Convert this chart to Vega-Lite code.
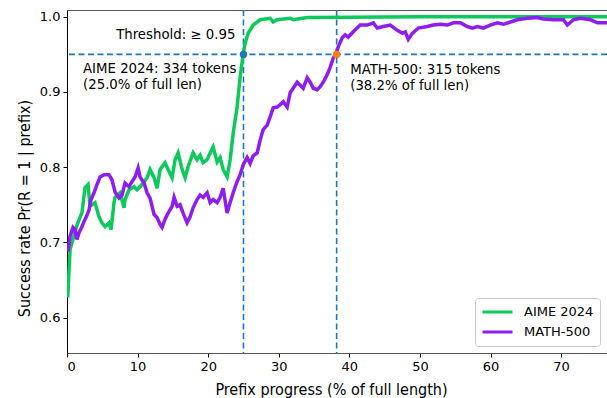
{
  "$schema": "https://vega.github.io/schema/vega-lite/v6.json",
  "width": 540,
  "height": 343,
  "autosize": {"type": "none"},
  "padding": {"left": 67, "top": 10, "right": 0, "bottom": 45},
  "background": "white",
  "config": {
    "font": "DejaVu Sans",
    "view": {"stroke": "#555555", "strokeWidth": 1},
    "axis": {
      "grid": false,
      "labelFont": "DejaVu Sans",
      "labelFontSize": 13,
      "labelColor": "#000000",
      "tickColor": "#000000",
      "tickSize": 4,
      "labelPadding": 3,
      "titleFont": "DejaVu Sans Condensed",
      "titleFontSize": 16,
      "titleFontWeight": "normal",
      "titleColor": "#000000"
    },
    "legend": {
      "labelFont": "DejaVu Sans",
      "labelFontSize": 13,
      "labelColor": "#000000"
    }
  },
  "datasets": {
    "curves": [
      {"series": "AIME 2024", "p": 0.1, "r": 0.627},
      {"series": "AIME 2024", "p": 0.43, "r": 0.69},
      {"series": "AIME 2024", "p": 0.71, "r": 0.70},
      {"series": "AIME 2024", "p": 1.42, "r": 0.723},
      {"series": "AIME 2024", "p": 2.13, "r": 0.74},
      {"series": "AIME 2024", "p": 2.55, "r": 0.773},
      {"series": "AIME 2024", "p": 2.98, "r": 0.777},
      {"series": "AIME 2024", "p": 3.26, "r": 0.748},
      {"series": "AIME 2024", "p": 3.97, "r": 0.753},
      {"series": "AIME 2024", "p": 4.54, "r": 0.734},
      {"series": "AIME 2024", "p": 4.96, "r": 0.726},
      {"series": "AIME 2024", "p": 5.39, "r": 0.721},
      {"series": "AIME 2024", "p": 5.95, "r": 0.726},
      {"series": "AIME 2024", "p": 6.24, "r": 0.717},
      {"series": "AIME 2024", "p": 6.66, "r": 0.753},
      {"series": "AIME 2024", "p": 6.81, "r": 0.76},
      {"series": "AIME 2024", "p": 7.51, "r": 0.766},
      {"series": "AIME 2024", "p": 8.08, "r": 0.746},
      {"series": "AIME 2024", "p": 8.22, "r": 0.757},
      {"series": "AIME 2024", "p": 8.79, "r": 0.77},
      {"series": "AIME 2024", "p": 9.5, "r": 0.774},
      {"series": "AIME 2024", "p": 9.92, "r": 0.77},
      {"series": "AIME 2024", "p": 10.63, "r": 0.777},
      {"series": "AIME 2024", "p": 11.34, "r": 0.786},
      {"series": "AIME 2024", "p": 11.77, "r": 0.797},
      {"series": "AIME 2024", "p": 12.34, "r": 0.786},
      {"series": "AIME 2024", "p": 12.76, "r": 0.772},
      {"series": "AIME 2024", "p": 13.19, "r": 0.797},
      {"series": "AIME 2024", "p": 13.89, "r": 0.806},
      {"series": "AIME 2024", "p": 14.32, "r": 0.797},
      {"series": "AIME 2024", "p": 14.89, "r": 0.786},
      {"series": "AIME 2024", "p": 15.31, "r": 0.81},
      {"series": "AIME 2024", "p": 15.74, "r": 0.819},
      {"series": "AIME 2024", "p": 16.31, "r": 0.797},
      {"series": "AIME 2024", "p": 16.73, "r": 0.786},
      {"series": "AIME 2024", "p": 17.16, "r": 0.801},
      {"series": "AIME 2024", "p": 17.86, "r": 0.819},
      {"series": "AIME 2024", "p": 18.43, "r": 0.81},
      {"series": "AIME 2024", "p": 18.86, "r": 0.816},
      {"series": "AIME 2024", "p": 19.28, "r": 0.806},
      {"series": "AIME 2024", "p": 19.85, "r": 0.81},
      {"series": "AIME 2024", "p": 20.28, "r": 0.819},
      {"series": "AIME 2024", "p": 20.7, "r": 0.827},
      {"series": "AIME 2024", "p": 21.27, "r": 0.807},
      {"series": "AIME 2024", "p": 21.69, "r": 0.813},
      {"series": "AIME 2024", "p": 22.12, "r": 0.797},
      {"series": "AIME 2024", "p": 22.68, "r": 0.787},
      {"series": "AIME 2024", "p": 23.11, "r": 0.81},
      {"series": "AIME 2024", "p": 23.54, "r": 0.845},
      {"series": "AIME 2024", "p": 24.1, "r": 0.88},
      {"series": "AIME 2024", "p": 24.53, "r": 0.92},
      {"series": "AIME 2024", "p": 24.95, "r": 0.95},
      {"series": "AIME 2024", "p": 25.24, "r": 0.965},
      {"series": "AIME 2024", "p": 25.66, "r": 0.978},
      {"series": "AIME 2024", "p": 26.37, "r": 0.989},
      {"series": "AIME 2024", "p": 27.36, "r": 0.996},
      {"series": "AIME 2024", "p": 28.78, "r": 0.998},
      {"series": "AIME 2024", "p": 29.21, "r": 0.993},
      {"series": "AIME 2024", "p": 29.77, "r": 0.996},
      {"series": "AIME 2024", "p": 31.62, "r": 0.998},
      {"series": "AIME 2024", "p": 32.04, "r": 0.996},
      {"series": "AIME 2024", "p": 34.03, "r": 0.999},
      {"series": "AIME 2024", "p": 40.0, "r": 0.9995},
      {"series": "AIME 2024", "p": 50.0, "r": 1.0},
      {"series": "AIME 2024", "p": 60.0, "r": 1.0},
      {"series": "AIME 2024", "p": 70.0, "r": 1.0},
      {"series": "AIME 2024", "p": 76.5, "r": 1.0},
      {"series": "MATH-500", "p": 0.14, "r": 0.688},
      {"series": "MATH-500", "p": 0.43, "r": 0.708},
      {"series": "MATH-500", "p": 0.85, "r": 0.72},
      {"series": "MATH-500", "p": 1.13, "r": 0.717},
      {"series": "MATH-500", "p": 1.42, "r": 0.704},
      {"series": "MATH-500", "p": 1.7, "r": 0.713},
      {"series": "MATH-500", "p": 2.13, "r": 0.721},
      {"series": "MATH-500", "p": 2.41, "r": 0.728},
      {"series": "MATH-500", "p": 2.69, "r": 0.733},
      {"series": "MATH-500", "p": 3.12, "r": 0.743},
      {"series": "MATH-500", "p": 3.4, "r": 0.757},
      {"series": "MATH-500", "p": 3.83, "r": 0.766},
      {"series": "MATH-500", "p": 4.25, "r": 0.777},
      {"series": "MATH-500", "p": 4.68, "r": 0.787},
      {"series": "MATH-500", "p": 5.25, "r": 0.79},
      {"series": "MATH-500", "p": 5.95, "r": 0.79},
      {"series": "MATH-500", "p": 6.38, "r": 0.783},
      {"series": "MATH-500", "p": 6.81, "r": 0.767},
      {"series": "MATH-500", "p": 7.37, "r": 0.759},
      {"series": "MATH-500", "p": 7.8, "r": 0.763},
      {"series": "MATH-500", "p": 8.22, "r": 0.779},
      {"series": "MATH-500", "p": 8.79, "r": 0.774},
      {"series": "MATH-500", "p": 9.22, "r": 0.781},
      {"series": "MATH-500", "p": 9.64, "r": 0.787},
      {"series": "MATH-500", "p": 10.07, "r": 0.799},
      {"series": "MATH-500", "p": 10.35, "r": 0.787},
      {"series": "MATH-500", "p": 10.92, "r": 0.779},
      {"series": "MATH-500", "p": 11.34, "r": 0.766},
      {"series": "MATH-500", "p": 11.77, "r": 0.759},
      {"series": "MATH-500", "p": 12.34, "r": 0.737},
      {"series": "MATH-500", "p": 12.76, "r": 0.733},
      {"series": "MATH-500", "p": 13.19, "r": 0.724},
      {"series": "MATH-500", "p": 13.47, "r": 0.72},
      {"series": "MATH-500", "p": 13.89, "r": 0.731},
      {"series": "MATH-500", "p": 14.32, "r": 0.739},
      {"series": "MATH-500", "p": 14.89, "r": 0.748},
      {"series": "MATH-500", "p": 15.17, "r": 0.76},
      {"series": "MATH-500", "p": 15.6, "r": 0.748},
      {"series": "MATH-500", "p": 16.02, "r": 0.75},
      {"series": "MATH-500", "p": 16.45, "r": 0.739},
      {"series": "MATH-500", "p": 17.01, "r": 0.726},
      {"series": "MATH-500", "p": 17.44, "r": 0.734},
      {"series": "MATH-500", "p": 17.86, "r": 0.746},
      {"series": "MATH-500", "p": 18.43, "r": 0.757},
      {"series": "MATH-500", "p": 18.86, "r": 0.763},
      {"series": "MATH-500", "p": 19.28, "r": 0.76},
      {"series": "MATH-500", "p": 19.85, "r": 0.766},
      {"series": "MATH-500", "p": 20.28, "r": 0.753},
      {"series": "MATH-500", "p": 20.7, "r": 0.757},
      {"series": "MATH-500", "p": 21.27, "r": 0.753},
      {"series": "MATH-500", "p": 21.69, "r": 0.76},
      {"series": "MATH-500", "p": 22.12, "r": 0.772},
      {"series": "MATH-500", "p": 22.68, "r": 0.739},
      {"series": "MATH-500", "p": 23.11, "r": 0.753},
      {"series": "MATH-500", "p": 23.54, "r": 0.766},
      {"series": "MATH-500", "p": 24.1, "r": 0.781},
      {"series": "MATH-500", "p": 24.53, "r": 0.79},
      {"series": "MATH-500", "p": 24.95, "r": 0.803},
      {"series": "MATH-500", "p": 25.52, "r": 0.813},
      {"series": "MATH-500", "p": 25.95, "r": 0.805},
      {"series": "MATH-500", "p": 26.37, "r": 0.815},
      {"series": "MATH-500", "p": 26.94, "r": 0.819},
      {"series": "MATH-500", "p": 27.36, "r": 0.836},
      {"series": "MATH-500", "p": 27.79, "r": 0.85},
      {"series": "MATH-500", "p": 28.36, "r": 0.856},
      {"series": "MATH-500", "p": 28.78, "r": 0.867},
      {"series": "MATH-500", "p": 29.21, "r": 0.879},
      {"series": "MATH-500", "p": 29.77, "r": 0.88},
      {"series": "MATH-500", "p": 30.2, "r": 0.883},
      {"series": "MATH-500", "p": 30.63, "r": 0.887},
      {"series": "MATH-500", "p": 31.19, "r": 0.88},
      {"series": "MATH-500", "p": 31.62, "r": 0.899},
      {"series": "MATH-500", "p": 32.04, "r": 0.905},
      {"series": "MATH-500", "p": 32.61, "r": 0.913},
      {"series": "MATH-500", "p": 33.04, "r": 0.909},
      {"series": "MATH-500", "p": 33.46, "r": 0.905},
      {"series": "MATH-500", "p": 34.03, "r": 0.919},
      {"series": "MATH-500", "p": 34.45, "r": 0.913},
      {"series": "MATH-500", "p": 34.88, "r": 0.905},
      {"series": "MATH-500", "p": 35.45, "r": 0.903},
      {"series": "MATH-500", "p": 35.87, "r": 0.907},
      {"series": "MATH-500", "p": 36.3, "r": 0.913},
      {"series": "MATH-500", "p": 36.86, "r": 0.923},
      {"series": "MATH-500", "p": 37.29, "r": 0.933},
      {"series": "MATH-500", "p": 37.71, "r": 0.945},
      {"series": "MATH-500", "p": 38.14, "r": 0.952},
      {"series": "MATH-500", "p": 38.42, "r": 0.96},
      {"series": "MATH-500", "p": 38.99, "r": 0.972},
      {"series": "MATH-500", "p": 39.42, "r": 0.976},
      {"series": "MATH-500", "p": 39.84, "r": 0.973},
      {"series": "MATH-500", "p": 40.55, "r": 0.98},
      {"series": "MATH-500", "p": 41.54, "r": 0.989},
      {"series": "MATH-500", "p": 42.54, "r": 0.989},
      {"series": "MATH-500", "p": 43.39, "r": 0.992},
      {"series": "MATH-500", "p": 43.95, "r": 0.985},
      {"series": "MATH-500", "p": 44.8, "r": 0.987},
      {"series": "MATH-500", "p": 45.8, "r": 0.989},
      {"series": "MATH-500", "p": 46.79, "r": 0.982},
      {"series": "MATH-500", "p": 47.5, "r": 0.978},
      {"series": "MATH-500", "p": 47.92, "r": 0.98},
      {"series": "MATH-500", "p": 48.35, "r": 0.97},
      {"series": "MATH-500", "p": 48.92, "r": 0.978},
      {"series": "MATH-500", "p": 49.77, "r": 0.985},
      {"series": "MATH-500", "p": 51.04, "r": 0.987},
      {"series": "MATH-500", "p": 51.89, "r": 0.989},
      {"series": "MATH-500", "p": 52.89, "r": 0.99},
      {"series": "MATH-500", "p": 53.88, "r": 0.989},
      {"series": "MATH-500", "p": 54.73, "r": 0.992},
      {"series": "MATH-500", "p": 55.72, "r": 0.992},
      {"series": "MATH-500", "p": 56.71, "r": 0.987},
      {"series": "MATH-500", "p": 57.42, "r": 0.985},
      {"series": "MATH-500", "p": 58.13, "r": 0.987},
      {"series": "MATH-500", "p": 58.98, "r": 0.985},
      {"series": "MATH-500", "p": 59.97, "r": 0.989},
      {"series": "MATH-500", "p": 60.97, "r": 0.992},
      {"series": "MATH-500", "p": 61.82, "r": 0.99},
      {"series": "MATH-500", "p": 62.81, "r": 0.993},
      {"series": "MATH-500", "p": 63.8, "r": 0.996},
      {"series": "MATH-500", "p": 65.22, "r": 0.998},
      {"series": "MATH-500", "p": 66.64, "r": 0.999},
      {"series": "MATH-500", "p": 67.49, "r": 0.997},
      {"series": "MATH-500", "p": 68.91, "r": 0.996},
      {"series": "MATH-500", "p": 70.32, "r": 0.996},
      {"series": "MATH-500", "p": 70.89, "r": 0.989},
      {"series": "MATH-500", "p": 71.74, "r": 0.996},
      {"series": "MATH-500", "p": 72.74, "r": 0.998},
      {"series": "MATH-500", "p": 74.16, "r": 0.996},
      {"series": "MATH-500", "p": 75.15, "r": 0.992},
      {"series": "MATH-500", "p": 76.5, "r": 0.992}
    ]
  },
  "layer": [
    {
      "data": {"values": [{"t": 0.95}]},
      "mark": {"type": "rule", "color": "#1f77b4", "strokeWidth": 1.6, "strokeDash": [6, 3.5]},
      "encoding": {"y": {"field": "t", "type": "quantitative"}}
    },
    {
      "data": {"values": [{"v": 25.0}, {"v": 38.2}]},
      "mark": {"type": "rule", "color": "#1f77b4", "strokeWidth": 1.6, "strokeDash": [6, 3.5]},
      "encoding": {"x": {"field": "v", "type": "quantitative"}}
    },
    {
      "data": {"name": "curves"},
      "mark": {"type": "line", "strokeWidth": 3.5, "clip": true},
      "encoding": {
        "x": {
          "field": "p",
          "type": "quantitative",
          "scale": {"domain": [0, 76.5], "nice": false, "zero": false},
          "axis": {
            "title": "Prefix progress (% of full length)",
            "values": [0, 10, 20, 30, 40, 50, 60, 70],
            "format": "d",
            "domainColor": "#555555",
            "titleBaseline": "top",
            "titleY": 28,
            "titleX": 264
          }
        },
        "y": {
          "field": "r",
          "type": "quantitative",
          "scale": {"domain": [0.553, 1.009], "nice": false, "zero": false},
          "axis": {
            "title": "Success rate Pr(R = 1 | prefix)",
            "values": [0.6, 0.7, 0.8, 0.9, 1.0],
            "format": ".1f",
            "domainColor": "#000000",
            "titleX": -35,
            "titleY": 198,
            "titleBaseline": "bottom"
          }
        },
        "color": {
          "field": "series",
          "type": "nominal",
          "scale": {"domain": ["AIME 2024", "MATH-500"], "range": ["#0cc95b", "#8f1cf2"]},
          "legend": {
            "title": null,
            "orient": "bottom-right",
            "offset": 7,
            "padding": 6,
            "strokeColor": "#cccccc",
            "fillColor": "#ffffff",
            "cornerRadius": 3,
            "symbolType": "stroke",
            "symbolStrokeWidth": 3,
            "symbolSize": 900,
            "clipHeight": 16,
            "labelOffset": 10,
            "rowPadding": 4
          }
        }
      }
    },
    {
      "data": {"values": [{"p": 25.0, "r": 0.95, "k": "AIME 2024"}, {"p": 38.2, "r": 0.95, "k": "MATH-500"}]},
      "mark": {"type": "circle", "size": 55, "opacity": 1},
      "encoding": {
        "x": {"field": "p", "type": "quantitative"},
        "y": {"field": "r", "type": "quantitative"},
        "fill": {"field": "k", "type": "nominal", "scale": {"domain": ["AIME 2024", "MATH-500"], "range": ["#1f77b4", "#ff7f0e"]}, "legend": null}
      }
    },
    {
      "data": {"values": [{"p": 23.85, "r": 0.970, "label": "Threshold: ≥ 0.95"}]},
      "mark": {"type": "text", "align": "right", "baseline": "alphabetic", "fontSize": 13.3, "font": "DejaVu Sans", "color": "#000000"},
      "encoding": {"x": {"field": "p", "type": "quantitative"}, "y": {"field": "r", "type": "quantitative"}, "text": {"field": "label"}}
    },
    {
      "data": {"values": [{"p": 2.27, "r": 0.9257, "label": ["AIME 2024: 334 tokens", "(25.0% of full len)"]}, {"p": 40.12, "r": 0.924, "label": ["MATH-500: 315 tokens", "(38.2% of full len)"]}]},
      "mark": {"type": "text", "align": "left", "baseline": "alphabetic", "fontSize": 13.3, "font": "DejaVu Sans", "color": "#000000", "lineHeight": 16},
      "encoding": {"x": {"field": "p", "type": "quantitative"}, "y": {"field": "r", "type": "quantitative"}, "text": {"field": "label"}}
    }
  ]
}
